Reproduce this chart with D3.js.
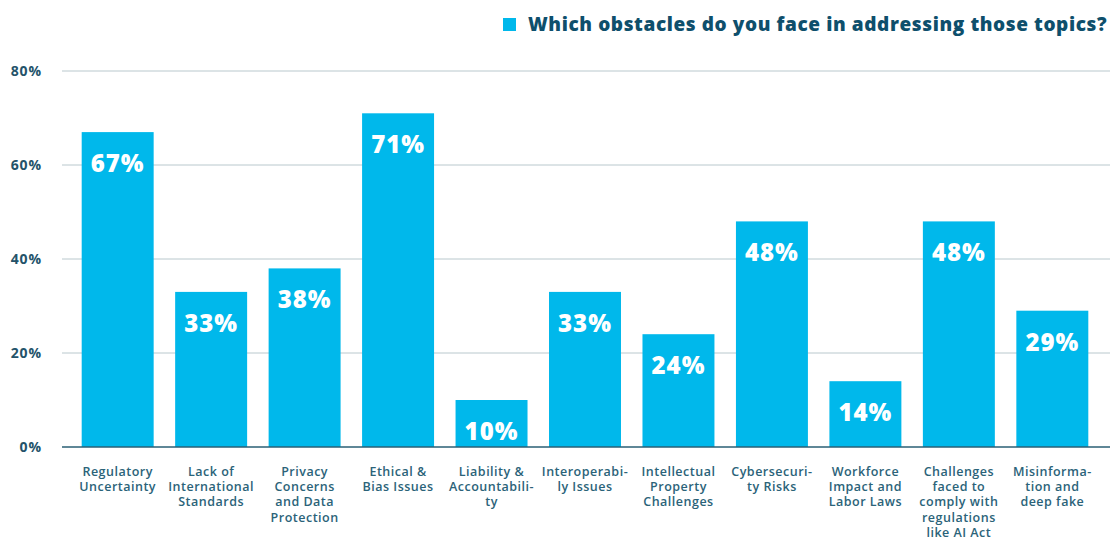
<!DOCTYPE html>
<html>
<head>
<meta charset="utf-8">
<script src="https://cdn.jsdelivr.net/npm/d3@7"></script>
<style>
  body { margin: 0; background: #fff; }
  text { font-family: "Open Sans", "DejaVu Sans", sans-serif; }
</style>
</head>
<body>
<div id="chart"></div>
<script>
// data
const categories = [
  "Regulatory\nUncertainty",
  "Lack of\nInternational\nStandards",
  "Privacy\nConcerns\nand Data\nProtection",
  "Ethical &\nBias Issues",
  "Liability &\nAccountabili-\nty",
  "Interoperabi-\nly Issues",
  "Intellectual\nProperty\nChallenges",
  "Cybersecuri-\nty Risks",
  "Workforce\nImpact and\nLabor Laws",
  "Challenges\nfaced to\ncomply with\nregulations\nlike AI Act",
  "Misinforma-\ntion and\ndeep fake"
];
const values = [67, 33, 38, 71, 10, 33, 24, 48, 14, 48, 29];
const yTicks = [0, 20, 40, 60, 80];
const seriesName = "Which obstacles do you face in addressing those topics?";

const W = 1110, H = 540;
const blue = "#00b8eb", navy = "#0e4f6c", grid = "#b9c8cd";

const svg = d3.select("#chart").append("svg")
  .attr("width", W).attr("height", H);

const x = d3.scaleBand().domain(categories).range([63, 1107])
  .paddingInner(0.23).paddingOuter(0.2);
const y = d3.scaleLinear().domain([0, 80]).range([447, 71]);

// gridlines
svg.append("g").selectAll("line").data(yTicks.filter(d => d > 0)).join("line")
  .attr("x1", 62).attr("x2", W)
  .attr("y1", d => y(d)).attr("y2", d => y(d))
  .attr("stroke", grid).attr("stroke-width", 1);

// y labels
svg.append("g").selectAll("text").data(yTicks).join("text")
  .attr("x", 42).attr("y", d => y(d) + 5)
  .attr("text-anchor", "end")
  .attr("fill", "#24536a").attr("font-size", 14).attr("font-weight", 700)
  .attr("letter-spacing", 0.9)
  .text(d => d + "%");

// bars
svg.append("g").selectAll("rect").data(values).join("rect")
  .attr("x", (d, i) => x(categories[i]))
  .attr("y", d => y(d))
  .attr("width", x.bandwidth())
  .attr("height", d => y(0) - y(d))
  .attr("fill", blue);

// baseline
svg.append("line").attr("x1", 62).attr("x2", W)
  .attr("y1", y(0)).attr("y2", y(0))
  .attr("stroke", "#2a5f75").attr("stroke-width", 1.5);

// value labels
svg.append("g").selectAll("text").data(values).join("text")
  .attr("x", (d, i) => x(categories[i]) + x.bandwidth() / 2)
  .attr("y", d => y(d) + 40)
  .attr("text-anchor", "middle")
  .attr("fill", "#fff").attr("font-size", 24).attr("font-weight", 800)
  .attr("letter-spacing", 1)
  .text(d => d + "%");

// category labels
const cat = svg.append("g").selectAll("text").data(categories).join("text")
  .attr("x", d => x(d) + x.bandwidth() / 2)
  .attr("y", 476)
  .attr("text-anchor", "middle")
  .attr("fill", "#2b6379").attr("font-size", 12.5).attr("font-weight", 600)
  .attr("letter-spacing", 0.5);
cat.selectAll("tspan").data(d => d.split("\n")).join("tspan")
  .attr("x", function() { return this.parentNode.getAttribute("x"); })
  .attr("dy", (d, i) => i ? 15.2 : 0)
  .text(d => d);

// legend
svg.append("rect").attr("x", 503).attr("y", 18).attr("width", 13).attr("height", 13).attr("fill", blue);
svg.append("text").attr("x", 528).attr("y", 31)
  .attr("fill", navy).attr("font-size", 19).attr("font-weight", 800)
  .attr("letter-spacing", 0.6)
  .text(seriesName);
</script>
</body>
</html>
